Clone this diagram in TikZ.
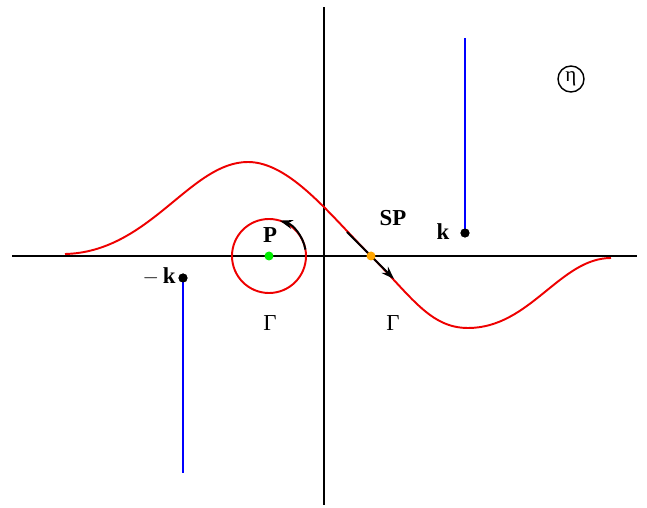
\documentclass[tikz,border=0pt]{standalone}
\usepackage{fontspec}
\setmainfont{Liberation Serif}
\usepackage{xcolor}
\definecolor{curveRed}{HTML}{EE0000}
\definecolor{cutBlue}{HTML}{0000FF}
\definecolor{saddleOrange}{HTML}{FFA500}
\definecolor{poleGreen}{HTML}{00EE00}
\usetikzlibrary{positioning,arrows.meta,calc}

\begin{document}
\begin{tikzpicture}[x=0.02cm, y=0.02cm,
    every node/.style={font=\fontsize{13}{15}\selectfont},
    axis/.style={line width=1.1pt, black},
    path/.style={line width=1.1pt, curveRed},
    cut/.style={line width=1.1pt, cutBlue},
    dot/.style={circle, fill, inner sep=0pt, minimum size=1.8mm},
    lbl/.style={font=\fontsize{13}{15}\selectfont\bfseries},
    arr/.style={-{Stealth[length=2.6mm, width=1.8mm]}, line width=1.1pt}]
  \useasboundingbox (0,0) rectangle (647,508);
  % axes
  \coordinate (xl) at (12,252);
  \coordinate (xr) at (637,252);
  \coordinate (yb) at (324,3);
  \coordinate (yt) at (324,501);
  \draw[axis] (xl) -- (xr);
  \draw[axis] (yb) -- (yt);
  % deformed contour
  \draw[path] (65,254) .. controls (150,256) and (190,346) .. (248,346)
    .. controls (290,346) and (331,292) .. (371,252)
    .. controls (411,212) and (430,180) .. (468,180)
    .. controls (530,180) and (560,250) .. (611,250);
  \draw[path] (269,252) circle (37);
  % direction arrows
  \coordinate (spA) at (347,276);
  \coordinate (spB) at (394,229);
  \draw[arr] (spA) -- (spB);
  \draw[arr] (269,252) ++(10:37) arc (10:73:37);
  % branch cuts
  \coordinate (kt) at (465,470);
  \coordinate (kb) at (183,35);
  \node[dot] (kp) at (465,275) {};
  \node[dot] (km) at (183,230) {};
  \draw[cut] (kp.center) -- (kt);
  \draw[cut] (km.center) -- (kb);
  \node[dot] at (kp) {};
  \node[dot] at (km) {};
  % points
  \node[dot, fill=poleGreen] (pp) at (269,252) {};
  \node[dot, fill=saddleOrange] (sp) at (371,252) {};
  % labels
  \node[lbl] (kl) at (443,276) {k};
  \node[lbl] (kml) at (159,232) {$-$\,k};
  \node[lbl] (spl) at (393,290) {SP};
  \node[lbl] (pl) at (270,273) {P};
  \node (g1) at (270,185) {Γ};
  \node (g2) at (393,185) {Γ};
  \node[draw, circle, line width=0.8pt, inner sep=0.5pt, minimum size=5.2mm,
        font=\fontsize{12}{14}\selectfont] (eta) at (571,429) {η};
\end{tikzpicture}
\end{document}
